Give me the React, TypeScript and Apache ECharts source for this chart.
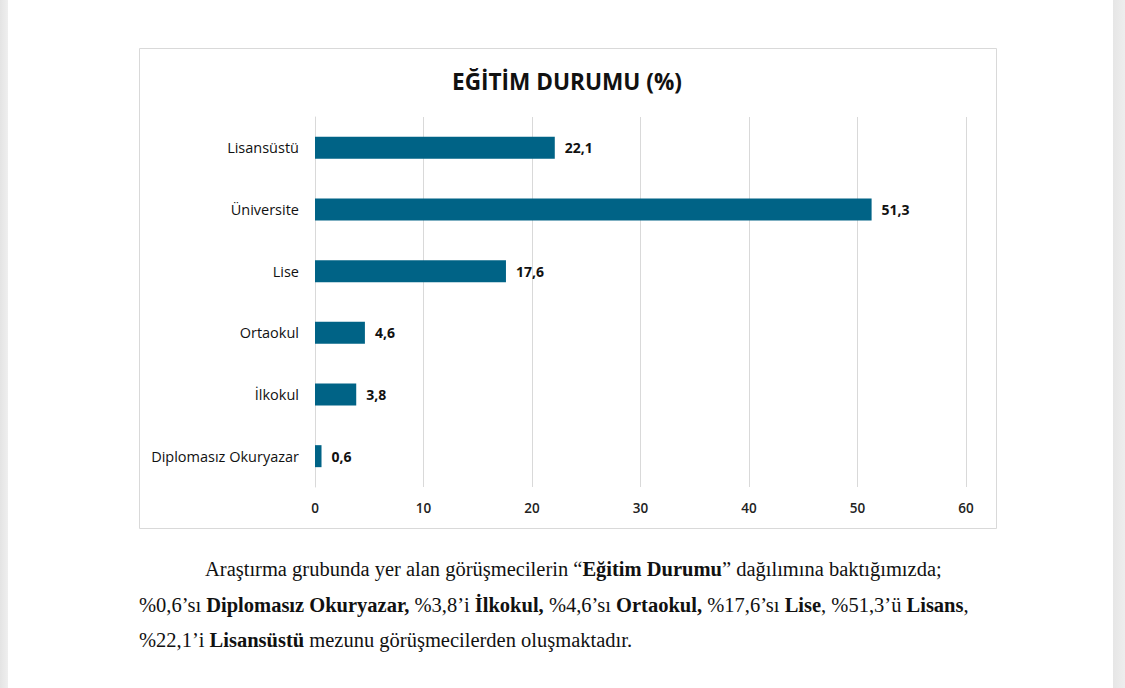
import React, { useEffect, useRef } from "react";
import * as echarts from "echarts";

const categories = ["Lisansüstü", "Üniversite", "Lise", "Ortaokul", "İlkokul", "Diplomasız Okuryazar"];
const values = [22.1, 51.3, 17.6, 4.6, 3.8, 0.6];
const xTicks = { min: 0, max: 60, interval: 10 };
const title = "EĞİTİM DURUMU (%)";

const chartFont = "'Open Sans', Lato, sans-serif";

export default function App() {
  const ref = useRef<HTMLDivElement>(null);
  useEffect(() => {
    if (!ref.current) return;
    const chart = echarts.init(ref.current, undefined, { renderer: "svg" });
    chart.setOption({
      animation: false,
      title: {
        text: title,
        left: 562,
        top: 65,
        textAlign: "center",
        textStyle: { fontFamily: chartFont, fontWeight: "bold", fontSize: 22.6, color: "#111" },
      },
      graphic: [
        {
          type: "rect",
          shape: { x: 139.5, y: 48.5, width: 857, height: 480 },
          style: { fill: "none", stroke: "#d9d9d9", lineWidth: 1 },
          z: -10,
        },
      ],
      grid: { left: 315, right: 159, top: 117, bottom: 201, containLabel: false },
      xAxis: {
        type: "value",
        min: xTicks.min,
        max: xTicks.max,
        interval: xTicks.interval,
        axisLine: { show: false },
        axisTick: { show: false },
        axisLabel: { margin: 14, fontFamily: chartFont, fontSize: 13.5, fontWeight: 600, color: "#222" },
        splitLine: { show: true, lineStyle: { color: "#d9d9d9", width: 1 } },
      },
      yAxis: {
        type: "category",
        data: categories,
        inverse: true,
        axisLine: { show: true, lineStyle: { color: "#d9d9d9" } },
        axisTick: { show: false },
        axisLabel: { margin: 16, fontFamily: chartFont, fontSize: 14.5, fontWeight: 500, color: "#111" },
      },
      series: [
        {
          type: "bar",
          data: values,
          barWidth: 22,
          itemStyle: { color: "#006386" },
          label: {
            show: true,
            position: "right",
            distance: 10,
            fontFamily: chartFont,
            fontSize: 14,
            fontWeight: "bold",
            color: "#111",
            formatter: (p: any) => String(p.value).replace(".", ","),
          },
        },
      ],
    });
    return () => chart.dispose();
  }, []);

  const para: React.CSSProperties = {
    position: "absolute",
    left: 139,
    fontFamily: "'Liberation Serif', 'Times New Roman', serif",
    fontSize: 20.5,
    color: "#111",
    whiteSpace: "nowrap",
    margin: 0,
    lineHeight: "24px",
  };

  return (
    <div style={{ position: "fixed", left: 0, top: 0, width: 1125, height: 688, background: "#fff", overflow: "hidden" }}>
      <div style={{ position: "absolute", left: 0, top: 0, width: 8, height: 688, background: "linear-gradient(to right, #e4e4e4, #efefef)" }} />
      <div style={{ position: "absolute", right: 0, top: 0, width: 12, height: 688, background: "linear-gradient(to right, #e6e6e6, #eeeeee)" }} />
      <div ref={ref} style={{ position: "absolute", left: 0, top: 0, width: 1125, height: 688 }} />
      <p style={{ ...para, top: 557, left: 205 }}>
        Araştırma grubunda yer alan görüşmecilerin “<b>Eğitim Durumu</b>” dağılımına baktığımızda;
      </p>
      <p style={{ ...para, top: 593 }}>
        %0,6’sı <b>Diplomasız Okuryazar,</b> %3,8’i <b>İlkokul,</b> %4,6’sı <b>Ortaokul,</b> %17,6’sı <b>Lise</b>, %51,3’ü <b>Lisans</b>,
      </p>
      <p style={{ ...para, top: 628 }}>
        %22,1’i <b>Lisansüstü</b> mezunu görüşmecilerden oluşmaktadır.
      </p>
    </div>
  );
}
